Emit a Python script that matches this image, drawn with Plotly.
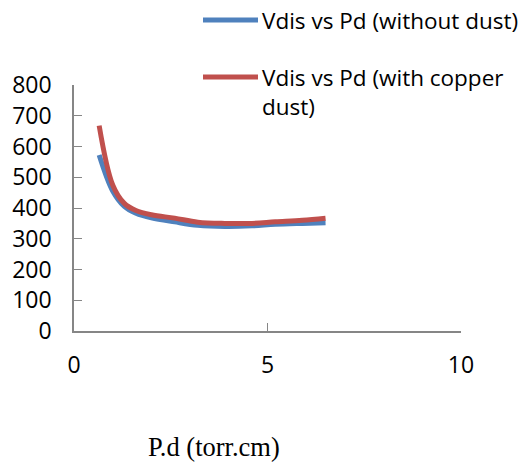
import plotly.graph_objects as go

pd_vals = [0.65, 1.0, 1.3, 1.6, 2.0, 2.6, 3.2, 3.9, 4.6, 5.2, 5.9, 6.5]
v_without = [572, 455, 405, 383, 368, 355, 344, 340, 342, 347, 350, 352]
v_with = [668, 475, 415, 392, 378, 367, 354, 350, 350, 355, 360, 367]

name1 = "Vdis vs Pd (without dust)"
name2 = "Vdis vs Pd (with copper<br>dust)"
xtitle = "P.d (torr.cm)"

blue = "#4F81BD"
red = "#C0504D"

# the page has an 8px body margin; work in window pixels and shift
OFF = 8
FW, FH = 532 - OFF, 463 - OFF
L, R, T, B = 74 - OFF, 461 - OFF, 85 - OFF, 331 - OFF
W, H = R - L, B - T


def px(x):
    return (x - OFF - L) / W


def py(y):
    return (B - (y - OFF)) / H


fig = go.Figure()
fig.add_trace(go.Scatter(x=pd_vals, y=v_without, mode="lines", name=name1,
                         line=dict(color=blue, width=5, shape="spline"), showlegend=False))
fig.add_trace(go.Scatter(x=pd_vals, y=v_with, mode="lines", name=name2.replace("<br>", " "),
                         line=dict(color=red, width=5, shape="spline"), showlegend=False))

font_family = "Open Sans, Noto Sans, sans-serif"
leg_font = dict(family=font_family, size=22.5, color="black")

shapes = [
    dict(type="line", xref="paper", yref="paper", x0=px(203), x1=px(258), y0=py(20), y1=py(20),
         line=dict(color=blue, width=5)),
    dict(type="line", xref="paper", yref="paper", x0=px(203), x1=px(258), y0=py(77), y1=py(77),
         line=dict(color=red, width=5)),
]
annotations = [
    dict(text=name1, x=px(261), y=py(21), xref="paper", yref="paper", xanchor="left",
         yanchor="middle", showarrow=False, font=leg_font, borderpad=0),
    dict(text=name2, x=px(261), y=py(92), xref="paper", yref="paper", xanchor="left",
         yanchor="middle", align="left", showarrow=False, font=leg_font, borderpad=0),
    dict(text=xtitle, x=px(213.5), y=py(447), xref="paper", yref="paper", xanchor="center",
         yanchor="middle", showarrow=False,
         font=dict(family="Liberation Serif, Times New Roman, serif", size=26.5, color="black")),
]

fig.update_layout(
    width=FW, height=FH,
    margin=dict(l=L, r=FW - R, t=T, b=FH - B, autoexpand=False),
    paper_bgcolor="white", plot_bgcolor="white",
    font=dict(family=font_family, size=23, color="black"),
    showlegend=False,
    xaxis=dict(range=[0, 10], tickvals=[0, 5, 10], ticks="inside", ticklen=8,
               tickcolor="#868686", showline=True, linecolor="#868686", linewidth=1.5,
               showgrid=False, zeroline=False, ticklabelstandoff=13,
               tickfont=dict(size=23)),
    yaxis=dict(range=[0, 800], tickvals=list(range(0, 801, 100)), ticks="inside", ticklen=8,
               tickcolor="#868686", showline=True, linecolor="#868686", linewidth=1.5,
               showgrid=False, zeroline=False, ticklabelstandoff=16,
               tickfont=dict(size=23)),
    shapes=shapes,
    annotations=annotations,
)

fig.write_html("out.html")
